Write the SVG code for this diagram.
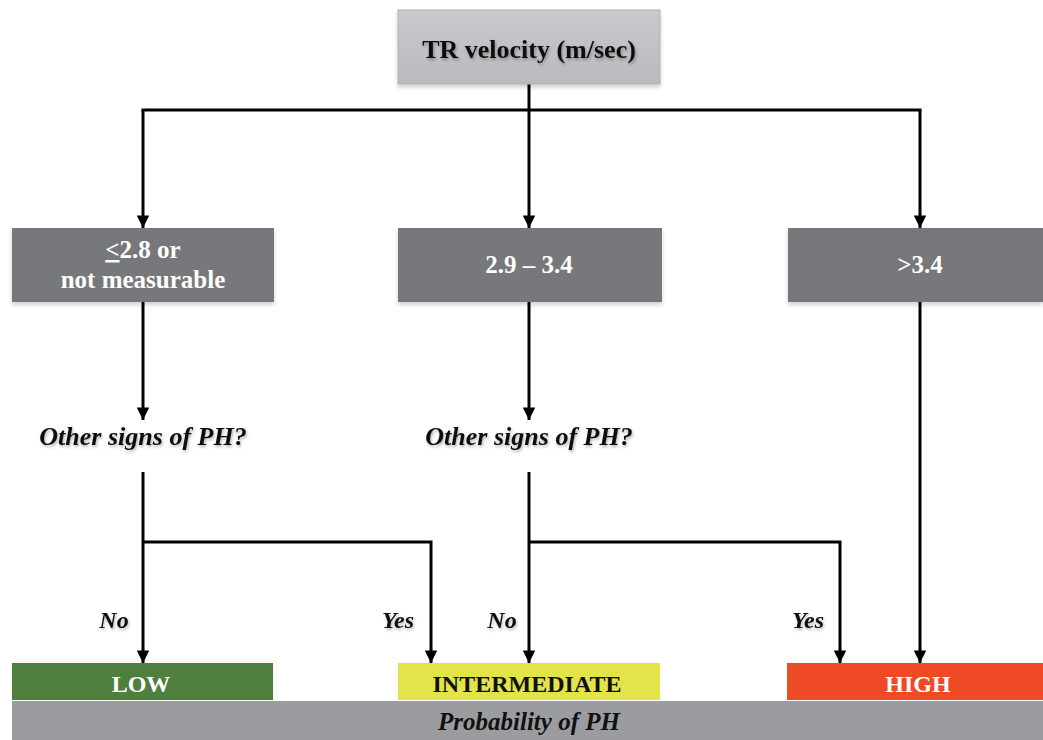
<svg xmlns="http://www.w3.org/2000/svg" width="1043" height="740" viewBox="0 0 1043 740">
<defs>
<linearGradient id="gTop" x1="0" y1="0" x2="0" y2="1">
<stop offset="0" stop-color="#c9cacd"/><stop offset="1" stop-color="#b9babd"/>
</linearGradient>
<filter id="sh" x="-10%" y="-20%" width="120%" height="150%">
<feDropShadow dx="0" dy="3" stdDeviation="2" flood-color="#000" flood-opacity="0.18"/>
</filter>
<filter id="tsh" x="-10%" y="-30%" width="120%" height="170%">
<feDropShadow dx="1" dy="2" stdDeviation="1.5" flood-color="#000" flood-opacity="0.3"/>
</filter>
<marker id="ah" viewBox="0 0 10 10" refX="10" refY="5" markerWidth="4.2" markerHeight="4.2" orient="auto" markerUnits="strokeWidth">
<path d="M0,0 L10,5 L0,10 z" fill="#000"/>
</marker>
</defs>
<style>
.ln{fill:none;stroke:#000;stroke-width:3}
.arr{fill:none;stroke:#000;stroke-width:3;marker-end:url(#ah)}
.t{font-family:"Liberation Serif","Times New Roman",serif;font-weight:bold;text-anchor:middle}
.w{fill:#fff;font-size:25px}
.b{font-size:24px}
.q{font-size:26px;font-style:italic;fill:#111}
.yn{font-size:24px;font-style:italic;fill:#111}
</style>
<rect width="1043" height="740" fill="#fff"/>
<g id="connectors">
<line class="ln" x1="529" y1="84" x2="529" y2="110"/>
<line class="ln" x1="141.5" y1="110" x2="921.5" y2="110"/>
<line class="arr" x1="143" y1="110" x2="143" y2="228"/>
<line class="arr" x1="529" y1="110" x2="529" y2="228"/>
<line class="arr" x1="920" y1="110" x2="920" y2="228"/>
<line class="arr" x1="143" y1="302" x2="143" y2="420"/>
<line class="arr" x1="529" y1="302" x2="529" y2="420"/>
<line class="arr" x1="920" y1="302" x2="920" y2="663"/>
<line class="arr" x1="143" y1="472" x2="143" y2="663"/>
<polyline class="arr" points="143,542 431,542 431,663"/>
<line class="arr" x1="529" y1="472" x2="529" y2="663"/>
<polyline class="arr" points="529,542 840,542 840,663"/>
</g>
<g id="node-tr">
<rect x="398" y="10" width="262" height="74" fill="url(#gTop)" stroke="#b0b1b4" stroke-width="1" filter="url(#sh)"/>
<text class="t" x="529" y="58" font-size="26" fill="#111" filter="url(#tsh)">TR velocity (m/sec)</text>
</g>
<g id="node-low-range">
<rect x="12" y="228" width="262" height="74" fill="#77787c" filter="url(#sh)"/>
<text class="t w" x="143" y="258"><tspan text-decoration="underline">&lt;</tspan>2.8 or</text>
<text class="t w" x="143" y="288">not measurable</text>
</g>
<g id="node-mid-range">
<rect x="398" y="228" width="264" height="74" fill="#77787c" filter="url(#sh)"/>
<text class="t w" x="529" y="273">2.9 – 3.4</text>
</g>
<g id="node-high-range">
<rect x="788" y="228" width="255" height="74" fill="#77787c" filter="url(#sh)"/>
<text class="t w" x="920" y="273">&gt;3.4</text>
</g>
<g id="node-q1">
<text class="t q" x="143" y="445" filter="url(#tsh)">Other signs of PH?</text>
</g>
<g id="node-q2">
<text class="t q" x="529" y="445" filter="url(#tsh)">Other signs of PH?</text>
</g>
<g id="labels">
<text class="t yn" x="114" y="628" filter="url(#tsh)">No</text>
<text class="t yn" x="398" y="628" filter="url(#tsh)">Yes</text>
<text class="t yn" x="502" y="628" filter="url(#tsh)">No</text>
<text class="t yn" x="808" y="628" filter="url(#tsh)">Yes</text>
</g>
<g id="node-prob">
<rect x="12" y="701" width="1031" height="39" fill="#9b9ca0"/>
<text class="t" x="529" y="730" font-size="25" font-style="italic" fill="#111">Probability of PH</text>
</g>
<g id="node-low">
<rect x="12" y="663" width="261" height="37" fill="#4e7f3e"/>
<text class="t w b" x="141" y="692">LOW</text>
</g>
<g id="node-intermediate">
<rect x="398" y="663" width="262" height="37" fill="#e3e34a"/>
<text class="t b" x="527" y="692" fill="#111">INTERMEDIATE</text>
</g>
<g id="node-high">
<rect x="787" y="663" width="256" height="37" fill="#ee4a25"/>
<text class="t w b" x="918" y="692">HIGH</text>
</g>
</svg>
